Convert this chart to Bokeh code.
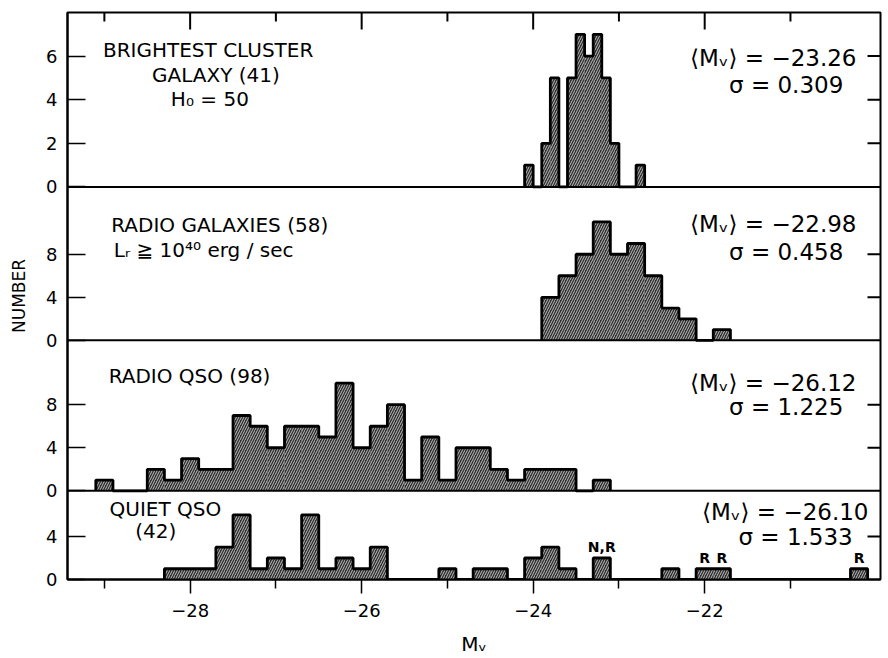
from bokeh.plotting import figure
from bokeh.models import Range1d, FixedTicker, Span, Label, ColumnDataSource
from bokeh.embed import file_html
from bokeh.resources import INLINE
from bokeh.core.properties import value

FONT = "DejaVu Sans"
NAN = float("nan")

# ---------------- data ----------------
# Brightest cluster galaxies (0.1 mag bins)
bcg_mv = [-24.05, -23.95, -23.85, -23.75, -23.65, -23.55, -23.45, -23.35,
          -23.25, -23.15, -23.05, -22.95, -22.85, -22.75]
bcg_n = [1, 0, 2, 5, 0, 5, 7, 6, 7, 5, 2, 0, 0, 1]

# Radio galaxies (0.2 mag bins)
rg_mv = [-23.8, -23.6, -23.4, -23.2, -23.0, -22.8, -22.6, -22.4, -22.2, -22.0, -21.8]
rg_n = [4, 6, 8, 11, 8, 9, 6, 3, 2, 0, 1]

# Radio QSO (0.2 mag bins)
rq_mv = [-29.0, -28.8, -28.6, -28.4, -28.2, -28.0, -27.8, -27.6, -27.4, -27.2,
         -27.0, -26.8, -26.6, -26.4, -26.2, -26.0, -25.8, -25.6, -25.4, -25.2,
         -25.0, -24.8, -24.6, -24.4, -24.2, -24.0, -23.8, -23.6, -23.4, -23.2]
rq_n = [1, 0, 0, 2, 1, 3, 2, 2, 7, 6,
        4, 6, 6, 5, 10, 4, 6, 8, 1, 5,
        1, 4, 4, 2, 1, 2, 2, 2, 0, 1]

# Quiet QSO (0.2 mag bins)
qq_mv = [-28.2, -28.0, -27.8, -27.6, -27.4, -27.2, -27.0, -26.8, -26.6, -26.4,
         -26.2, -26.0, -25.8, -25.6, -25.4, -25.2, -25.0, -24.8, -24.6, -24.4,
         -24.2, -24.0, -23.8, -23.6, -23.4, -23.2, -23.0, -22.8, -22.6, -22.4,
         -22.2, -22.0, -21.8, -21.6, -21.4, -21.2, -21.0, -20.8, -20.6, -20.4,
         -20.2]
qq_n = [1, 1, 1, 3, 6, 1, 2, 1, 6, 1,
        2, 1, 3, 0, 0, 0, 1, 0, 1, 1,
        0, 2, 3, 1, 0, 2, 0, 0, 0, 1,
        0, 1, 1, 0, 0, 0, 0, 0, 0, 0,
        1]

# bar annotations in the quiet QSO panel
note_mv = [-23.2, -22.0, -21.8, -20.2]
note_text = ["N,R", "R", "R", "R"]

y_ticks_bcg = [0, 2, 4, 6]
y_ticks_rg = [0, 4, 8]
y_ticks_rq = [0, 4, 8]
y_ticks_qq = [0, 4]

x_major = [-28, -26, -24, -22]
x_minor = [-29, -27, -25, -23, -21]

# ---------------- layout ----------------
W, H = 888, 658
FL, FR, FT, FB = 67, 8, 12, 77
FRAME_W = W - FL - FR  # 813
FRAME_H = H - FT - FB  # 569
X0, X1 = -29.43, -19.95
PX_PER_MAG = FRAME_W / (X1 - X0)

# panels top to bottom: (name, mv, n, bin width, ticks, pixel height, px per count)
panels = [
    ("bcg", bcg_mv, bcg_n, 0.1, y_ticks_bcg, 175, 175 / 8.0),
    ("rg", rg_mv, rg_n, 0.2, y_ticks_rg, 154, 10.8),
    ("rq", rq_mv, rq_n, 0.2, y_ticks_rq, 151, 10.8),
    ("qq", qq_mv, qq_n, 0.2, y_ticks_qq, 89, 10.8),
]

p = figure(width=W, height=H, output_backend="svg", toolbar_location=None,
           x_range=Range1d(X0, X1), y_range=Range1d(0, FRAME_H),
           min_border_left=FL, min_border_right=FR, min_border_top=FT,
           min_border_bottom=FB, background_fill_color="white",
           border_fill_color="white")
p.grid.visible = False
p.outline_line_color = "black"
p.outline_line_width = 2

tick_pos, tick_lab = [], {}
bases, tops = {}, {}
acc = FRAME_H
for name, mv, n, w, ticks, ph, s in panels:
    acc -= ph
    bases[name] = acc
    tops[name] = (FRAME_H - acc) / s
    p.extra_y_ranges[name] = Range1d(start=-acc / s, end=tops[name])
    for t in ticks:
        pos = round(acc + t * s, 3)
        tick_pos.append(pos)
        tick_lab[pos] = str(t)

BAR_FILL = "#2e2e2e"
for name, mv, n, w, ticks, ph, s in panels:
    src = ColumnDataSource(dict(left=[c - w / 2 for c in mv],
                                right=[c + w / 2 for c in mv], top=n))
    p.quad(left="left", right="right", bottom=0, top="top", source=src,
           y_range_name=name, fill_color=BAR_FILL, line_color=None,
           hatch_pattern="right_diagonal_line", hatch_color="#bdbdbd",
           hatch_scale=5, hatch_weight=1)
    xs = [mv[0] - w / 2]
    ys = [0]
    for c, h in zip(mv, n):
        xs.append(c - w / 2)
        ys.append(h)
    xs.append(mv[-1] + w / 2)
    ys.append(0)
    p.step(x=xs, y=ys, mode="after", y_range_name=name,
           line_color="black", line_width=2.8)
    if name != "qq":
        p.add_layout(Span(location=0, dimension="width", y_range_name=name,
                          line_color="black", line_width=2))
    # inward tick marks on the right edge (broken line through NaN gaps)
    rx, ry = [], []
    for t in ticks:
        if t != 0:
            rx += [X1 - 13 / PX_PER_MAG, X1, NAN]
            ry += [t, t, NAN]
    p.line(x=rx, y=ry, y_range_name=name, line_color="black", line_width=2)

# inward tick marks on the top edge (in the top panel's scale)
s_top = panels[0][6]
tx, ty = [], []
for t in x_major:
    tx += [t, t, NAN]
    ty += [tops["bcg"], tops["bcg"] - 17 / s_top, NAN]
for t in x_minor:
    tx += [t, t, NAN]
    ty += [tops["bcg"], tops["bcg"] - 9 / s_top, NAN]
p.line(x=tx, y=ty, y_range_name="bcg", line_color="black", line_width=2)

# ---------------- y axis (left) ----------------
ya = p.yaxis[0]
ya.ticker = FixedTicker(ticks=tick_pos)
ya.major_label_overrides = tick_lab
ya.major_tick_in = 18
ya.major_tick_out = 0
ya.minor_tick_in = 0
ya.minor_tick_out = 0
ya.major_label_standoff = 10
ya.major_label_text_font = FONT
ya.major_label_text_font_size = "18px"
ya.major_label_text_color = "black"
ya.axis_line_color = "black"
ya.axis_line_width = 2
ya.major_tick_line_width = 1.5
ya.axis_label = "NUMBER"
ya.axis_label_text_font = FONT
ya.axis_label_text_font_size = "17px"
ya.axis_label_text_font_style = "normal"
ya.axis_label_text_color = "black"
ya.axis_label_standoff = 14

# ---------------- x axis (bottom) ----------------
xa = p.xaxis[0]
xa.ticker = FixedTicker(ticks=x_major, minor_ticks=x_minor)
xa.major_label_overrides = {t: "\u2212" + str(abs(t)) for t in x_major}
xa.major_tick_out = 14
xa.major_tick_in = 0
xa.minor_tick_out = 9
xa.minor_tick_in = 0
xa.major_tick_line_width = 1.5
xa.minor_tick_line_width = 1.5
xa.axis_line_color = "black"
xa.axis_line_width = 2
xa.major_label_standoff = 10
xa.major_label_text_font = FONT
xa.major_label_text_font_size = "18px"
xa.major_label_text_color = "black"
xa.axis_label = "M\u1D65"
xa.axis_label_text_font = FONT
xa.axis_label_text_font_size = "20px"
xa.axis_label_text_font_style = "normal"
xa.axis_label_text_color = "black"
xa.axis_label_standoff = 12

# ---------------- texts ----------------
def lab(x, y, text, rng, align="left", size="20px"):
    p.add_layout(Label(x=x, y=y, y_range_name=rng, text=text,
                       text_font=FONT, text_font_size=size,
                       text_align=align, text_baseline="middle",
                       text_color="black"))

STAT = "23px"
lab(-27.79, 6.26, "BRIGHTEST CLUSTER", "bcg", "center")
lab(-27.70, 5.12, "GALAXY (41)", "bcg", "center")
lab(-27.77, 4.02, "H\u2080 = 50", "bcg", "center")
lab(-21.20, 5.90, "\u27E8M\u1D65\u27E9 = \u221223.26", "bcg", "center", STAT)
lab(-21.05, 4.66, "\u03C3 = 0.309", "bcg", "center", STAT)

lab(-28.92, 10.74, "RADIO GALAXIES (58)", "rg")
lab(-28.89, 8.43, "L\u1D63 \u2267 10\u2074\u2070  erg / sec", "rg")
lab(-21.20, 10.83, "\u27E8M\u1D65\u27E9 = \u221222.98", "rg", "center", STAT)
lab(-21.05, 8.24, "\u03C3 = 0.458", "rg", "center", STAT)

lab(-28.95, 10.65, "RADIO QSO (98)", "rq")
lab(-21.20, 10.0, "\u27E8M\u1D65\u27E9 = \u221226.12", "rq", "center", STAT)
lab(-21.05, 7.78, "\u03C3 = 1.225", "rq", "center", STAT)

lab(-28.94, 6.57, "QUIET QSO", "qq")
lab(-28.40, 4.54, "(42)", "qq", "center")
lab(-21.06, 6.30, "\u27E8M\u1D65\u27E9 = \u221226.10", "qq", "center", STAT)
lab(-20.94, 3.98, "\u03C3 = 1.533", "qq", "center", STAT)

note_y = [qq_n[qq_mv.index(m)] for m in note_mv]
nsrc = ColumnDataSource(dict(x=note_mv, y=note_y, t=note_text))
p.text(x="x", y="y", text="t", source=nsrc, y_range_name="qq",
       text_font=value(FONT), text_font_size="14px", text_font_style="bold",
       text_align="center", text_baseline="bottom", y_offset=-3,
       text_color="black")

open("out.html", "w").write(file_html(p, INLINE))
